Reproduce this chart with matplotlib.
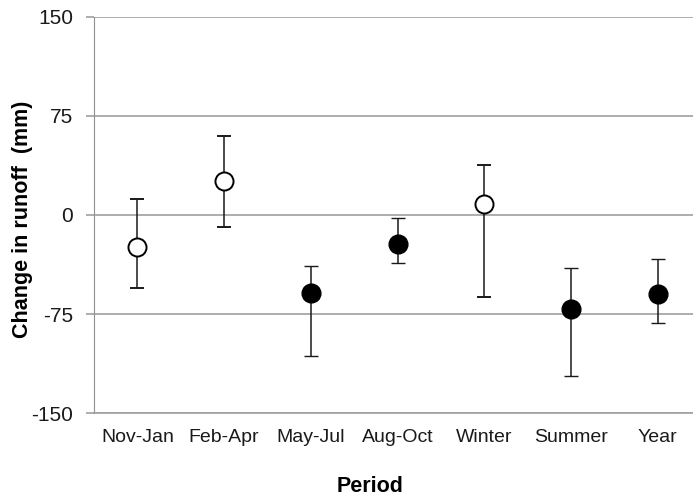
import matplotlib
matplotlib.use("Agg")
import matplotlib.pyplot as plt
import numpy as np

plt.rcParams['font.family'] = ['Liberation Sans', 'DejaVu Sans']
plt.rcParams['axes.unicode_minus'] = False

periods = ["Nov-Jan", "Feb-Apr", "May-Jul", "Aug-Oct", "Winter", "Summer", "Year"]
change = [-24, 26, -59, -22, 8, -71, -60]
err_low = [-55, -9, -107, -36, -62, -122, -82]
err_high = [12, 60, -39, -2, 38, -40, -33]
filled = [False, False, True, True, False, True, True]
yticks = [-150, -75, 0, 75, 150]

fig = plt.figure(figsize=(6.93, 4.98), dpi=100)
ax = fig.add_axes([94/693, 1 - 413.3/498, 607/693, 396.8/498])

x = np.arange(len(periods))
for i in range(len(periods)):
    yerr = [[change[i] - err_low[i]], [err_high[i] - change[i]]]
    ax.errorbar(x[i], change[i], yerr=yerr, fmt='o', color='#1a1a1a',
                ecolor='#1a1a1a', elinewidth=1.1, capsize=5, capthick=1.1,
                markersize=13.5 if filled[i] else 13,
                markerfacecolor='black' if filled[i] else 'white',
                markeredgecolor='black', markeredgewidth=1.0 if filled[i] else 1.4,
                zorder=3)

ax.set_xlim(-0.5, len(periods) - 0.5)
ax.set_ylim(-150, 150)
ax.set_yticks(yticks)
ax.set_xticks(x)
ax.set_xticklabels(periods)
ax.yaxis.grid(True, color='#a0a0a0', linewidth=1.2)
ax.set_axisbelow(True)
for s in ['top', 'right']:
    ax.spines[s].set_visible(False)
ax.spines['left'].set_color('#909090')
ax.spines['bottom'].set_color('#a0a0a0')
ax.spines['bottom'].set_linewidth(1.2)
ax.tick_params(axis='y', length=6, color='#a0a0a0', width=1.2, pad=9, labelsize=15, labelcolor='#1a1a1a')
ax.tick_params(axis='x', length=0, pad=11, labelsize=14, labelcolor='#1a1a1a')

ax.set_ylabel("Change in runoff  (mm)", fontsize=15.5, fontweight='bold')
ax.yaxis.set_label_coords(-0.100, 0.49)
ax.set_xlabel("Period", fontsize=15.5, fontweight='bold')
ax.xaxis.set_label_coords((370 - 94) / 607, -0.158)

fig.savefig("out.png", dpi=100)
